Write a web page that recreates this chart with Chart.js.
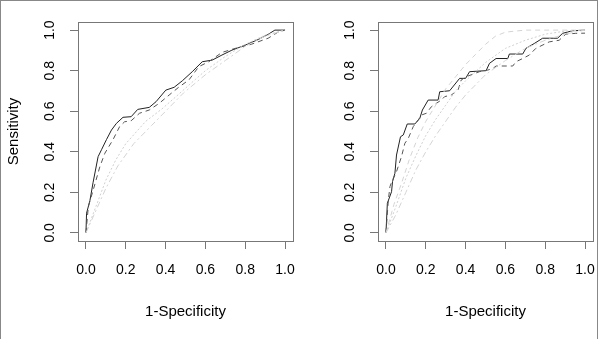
<!DOCTYPE html>
<html>
<head>
<meta charset="utf-8">
<script src="https://cdn.jsdelivr.net/npm/chart.js@4.4.1/dist/chart.umd.min.js"></script>
<style>
  body { margin: 0; background: #fff; }
  #frame { position: absolute; left: 0; top: 0; width: 596px; height: 345px; border: 1px solid #888; }
  .panel { position: absolute; top: 0; width: 300px; height: 339px; }
</style>
</head>
<body>
<div id="frame"></div>
<div class="panel" style="left:0"><canvas id="leftChart" width="300" height="339"></canvas></div>
<div class="panel" style="left:300px"><canvas id="rightChart" width="300" height="339"></canvas></div>
<script>
// tick labels
let tickValues = [0, 0.2, 0.4, 0.6, 0.8, 1.0];
let tickLabels = ['0.0', '0.2', '0.4', '0.6', '0.8', '1.0'];

// left panel curves (1-specificity / sensitivity)
let leftSolidFpr = [0, 0.003, 0.02, 0.036, 0.061, 0.078, 0.103, 0.128, 0.153, 0.186, 0.227, 0.26, 0.318, 0.352, 0.401, 0.443, 0.484, 0.534, 0.584, 0.634, 0.683, 0.733, 0.8, 0.866, 0.915, 0.949, 1.0];
let leftSolidTpr = [0, 0.097, 0.16, 0.25, 0.376, 0.41, 0.46, 0.507, 0.54, 0.57, 0.573, 0.609, 0.619, 0.647, 0.704, 0.718, 0.75, 0.795, 0.844, 0.852, 0.877, 0.901, 0.926, 0.954, 0.979, 1.0, 1.0];
let leftDashFpr = [0, 0.012, 0.036, 0.07, 0.095, 0.136, 0.169, 0.194, 0.227, 0.269, 0.318, 0.368, 0.418, 0.468, 0.517, 0.567, 0.617, 0.683, 0.75, 0.83, 0.915, 0.965, 1.0];
let leftDashTpr = [0, 0.13, 0.21, 0.327, 0.393, 0.46, 0.524, 0.548, 0.553, 0.59, 0.606, 0.639, 0.68, 0.72, 0.754, 0.82, 0.844, 0.89, 0.91, 0.93, 0.96, 0.99, 1.0];
let leftLightAFpr = [0, 0.05, 0.1, 0.15, 0.2, 0.3, 0.38, 0.45, 0.53, 0.6, 0.7, 0.8, 0.9, 1.0];
let leftLightATpr = [0, 0.13, 0.26, 0.36, 0.44, 0.55, 0.61, 0.67, 0.74, 0.8, 0.87, 0.93, 0.975, 1.0];
let leftLightBFpr = [0, 0.05, 0.1, 0.16, 0.24, 0.33, 0.4, 0.49, 0.6, 0.7, 0.8, 0.9, 1.0];
let leftLightBTpr = [0, 0.11, 0.22, 0.33, 0.44, 0.53, 0.6, 0.69, 0.78, 0.85, 0.92, 0.97, 1.0];

// right panel curves
let rightSolidFpr = [0, 0.007, 0.028, 0.033, 0.045, 0.053, 0.073, 0.087, 0.107, 0.145, 0.17, 0.183, 0.212, 0.262, 0.27, 0.32, 0.37, 0.4, 0.42, 0.503, 0.52, 0.553, 0.612, 0.62, 0.687, 0.703, 0.745, 0.787, 0.862, 0.887, 0.937, 1.0];
let rightSolidTpr = [0, 0.146, 0.203, 0.253, 0.294, 0.384, 0.474, 0.483, 0.537, 0.537, 0.565, 0.606, 0.655, 0.655, 0.696, 0.701, 0.762, 0.762, 0.795, 0.8, 0.836, 0.86, 0.86, 0.882, 0.882, 0.91, 0.934, 0.96, 0.96, 0.984, 0.997, 1.0];
let rightDashFpr = [0, 0.012, 0.02, 0.028, 0.053, 0.078, 0.095, 0.112, 0.137, 0.162, 0.178, 0.203, 0.228, 0.253, 0.278, 0.295, 0.328, 0.362, 0.378, 0.403, 0.437, 0.47, 0.512, 0.537, 0.553, 0.637, 0.653, 0.687, 0.72, 0.753, 0.82, 0.87, 0.903, 0.953, 1.0];
let rightDashTpr = [0, 0.163, 0.228, 0.25, 0.302, 0.376, 0.442, 0.466, 0.524, 0.557, 0.581, 0.59, 0.622, 0.639, 0.655, 0.672, 0.68, 0.704, 0.754, 0.77, 0.783, 0.795, 0.803, 0.811, 0.823, 0.823, 0.844, 0.86, 0.877, 0.91, 0.942, 0.95, 0.98, 0.984, 0.985];
let rightLightAFpr = [0, 0.04, 0.08, 0.12, 0.16, 0.2, 0.25, 0.3, 0.35, 0.4, 0.45, 0.5, 0.55, 0.6, 0.7, 1.0];
let rightLightATpr = [0, 0.14, 0.25, 0.37, 0.47, 0.55, 0.63, 0.71, 0.77, 0.83, 0.88, 0.93, 0.97, 0.99, 1.0, 1.0];
let rightLightBFpr = [0, 0.05, 0.1, 0.15, 0.2, 0.25, 0.3, 0.35, 0.4, 0.5, 0.6, 0.7, 0.8, 0.9, 1.0];
let rightLightBTpr = [0, 0.13, 0.27, 0.38, 0.48, 0.56, 0.63, 0.7, 0.75, 0.84, 0.91, 0.95, 0.98, 0.995, 1.0];
let rightLightCFpr = [0, 0.05, 0.1, 0.15, 0.2, 0.25, 0.3, 0.35, 0.4, 0.45, 0.5, 0.6, 0.7, 0.8, 0.9, 1.0];
let rightLightCTpr = [0, 0.09, 0.2, 0.31, 0.4, 0.48, 0.55, 0.62, 0.68, 0.73, 0.78, 0.85, 0.91, 0.95, 0.98, 1.0];

const toPoints = (xs, ys) => xs.map((x, i) => ({x: x, y: ys[i]}));

const lineSet = (xs, ys, color, dash) => ({
    data: toPoints(xs, ys),
    borderColor: color,
    borderWidth: 1,
    borderDash: dash,
    pointRadius: 0,
    tension: 0,
    fill: false
});

const fontFamily = '"Liberation Sans", Arial, sans-serif';

// R-style box and rotated y tick labels
const boxPlugin = {
    id: 'rbox',
    afterDraw(chart) {
        let ctx = chart.ctx;
        let a = chart.chartArea;
        ctx.save();
        ctx.strokeStyle = '#777';
        ctx.lineWidth = 1;
        ctx.strokeRect(Math.round(a.left) + 0.5, Math.round(a.top) + 0.5, Math.round(a.right - a.left), Math.round(a.bottom - a.top));
        let yScale = chart.scales.y;
        ctx.fillStyle = '#000';
        ctx.font = '14px ' + fontFamily;
        ctx.textAlign = 'center';
        ctx.textBaseline = 'middle';
        tickValues.forEach((v, i) => {
            ctx.save();
            ctx.translate(50, yScale.getPixelForValue(v));
            ctx.rotate(-Math.PI / 2);
            ctx.fillText(tickLabels[i], 0, 0);
            ctx.restore();
        });
        ctx.restore();
    }
};

const setTicks = scale => {
    scale.ticks = tickValues.map(v => ({value: v}));
};

makeChart = (id, sets, yTitle) => {
    let ctx = document.getElementById(id).getContext('2d');
    return new Chart(ctx, {
        type: 'line',
        data: { datasets: sets },
        options: {
            responsive: false,
            animation: false,
            events: [],
            layout: { padding: { top: 22, right: 7, left: 0, bottom: 0 } },
            plugins: { legend: { display: false }, tooltip: { enabled: false } },
            scales: {
                x: {
                    type: 'linear',
                    min: -0.04,
                    max: 1.04,
                    afterBuildTicks: setTicks,
                    afterFit: scale => {
                        scale.height = 98;
                        scale.paddingLeft = 0;
                        scale.paddingRight = 0;
                    },
                    grid: { drawOnChartArea: false, tickLength: 8, color: '#777' },
                    border: { display: false },
                    ticks: {
                        padding: 13,
                        color: '#000',
                        maxRotation: 0,
                        autoSkip: false,
                        font: { family: fontFamily, size: 14 },
                        callback: v => tickLabels[tickValues.indexOf(v)]
                    },
                    title: {
                        display: true,
                        text: '1-Specificity',
                        color: '#000',
                        padding: { top: 0, bottom: 18 },
                        font: { family: fontFamily, size: 15 }
                    }
                },
                y: {
                    type: 'linear',
                    min: -0.04,
                    max: 1.04,
                    afterBuildTicks: setTicks,
                    afterFit: scale => {
                        scale.width = 78;
                        scale.paddingTop = 0;
                        scale.paddingBottom = 0;
                    },
                    grid: { drawOnChartArea: false, tickLength: 8, color: '#777' },
                    border: { display: false },
                    ticks: { display: false },
                    title: {
                        display: yTitle !== '',
                        text: yTitle,
                        color: '#000',
                        padding: { top: 5, bottom: 0 },
                        font: { family: fontFamily, size: 15 }
                    }
                }
            }
        },
        plugins: [boxPlugin]
    });
}

makeChart('leftChart', [
    lineSet(leftLightAFpr, leftLightATpr, '#cfcfcf', [2, 2]),
    lineSet(leftLightBFpr, leftLightBTpr, '#d4d4d4', [6, 3, 2, 3]),
    lineSet(leftDashFpr, leftDashTpr, '#555', [5, 4]),
    lineSet(leftSolidFpr, leftSolidTpr, '#222', [])
], 'Sensitivity');

makeChart('rightChart', [
    lineSet(rightLightAFpr, rightLightATpr, '#d4d4d4', [5, 4]),
    lineSet(rightLightBFpr, rightLightBTpr, '#d0d0d0', [2, 2]),
    lineSet(rightLightCFpr, rightLightCTpr, '#d4d4d4', [6, 3, 2, 3]),
    lineSet(rightDashFpr, rightDashTpr, '#555', [5, 4]),
    lineSet(rightSolidFpr, rightSolidTpr, '#222', [])
], '');
</script>
</body>
</html>
